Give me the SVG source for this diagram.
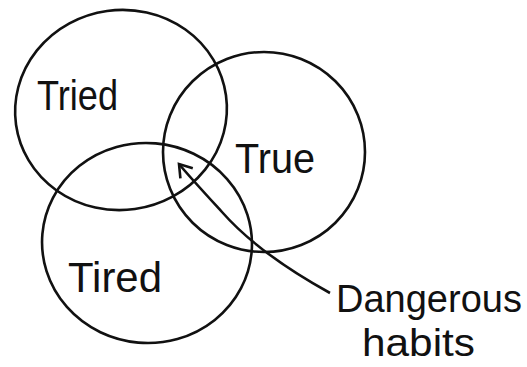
<svg xmlns="http://www.w3.org/2000/svg" width="527" height="367" viewBox="0 0 527 367">
<style>
.c{fill:none;stroke:#111;stroke-width:2.6}
.t{font-family:"Liberation Sans",Arial,sans-serif;font-size:42px;fill:#111}
.l{font-size:38px}
</style>
<defs>
<marker id="ah" viewBox="0 0 20 20" refX="17" refY="10" markerWidth="20" markerHeight="20" markerUnits="userSpaceOnUse" orient="auto">
<path d="M5,2 L17,10 L5,18" fill="none" stroke="#111" stroke-width="2.6" stroke-linejoin="miter"/>
</marker>
</defs>
<rect width="527" height="367" fill="#fff"/>
<g id="tried">
<ellipse class="c" cx="121" cy="110" rx="106" ry="100" transform="rotate(-8 121 110)"/>
<text class="t" x="37" y="110" textLength="81" lengthAdjust="spacingAndGlyphs">Tried</text>
</g>
<g id="true">
<ellipse class="c" cx="264" cy="152" rx="101" ry="100"/>
<text class="t" x="235" y="173" textLength="80" lengthAdjust="spacingAndGlyphs">True</text>
</g>
<g id="tired">
<ellipse class="c" cx="147" cy="243" rx="105" ry="100" transform="rotate(5 147 243)"/>
<text class="t" x="68" y="292" textLength="94" lengthAdjust="spacingAndGlyphs">Tired</text>
</g>
<g id="label">
<text class="t l" x="336" y="312">Dangerous</text>
<text class="t l" x="362" y="356" textLength="113" lengthAdjust="spacingAndGlyphs">habits</text>
</g>
<g id="connectors">
<path class="c" d="M330,293 C292,272 252,246 222,212 C200,188 188,175 179,164" marker-end="url(#ah)"/>
</g>
</svg>
